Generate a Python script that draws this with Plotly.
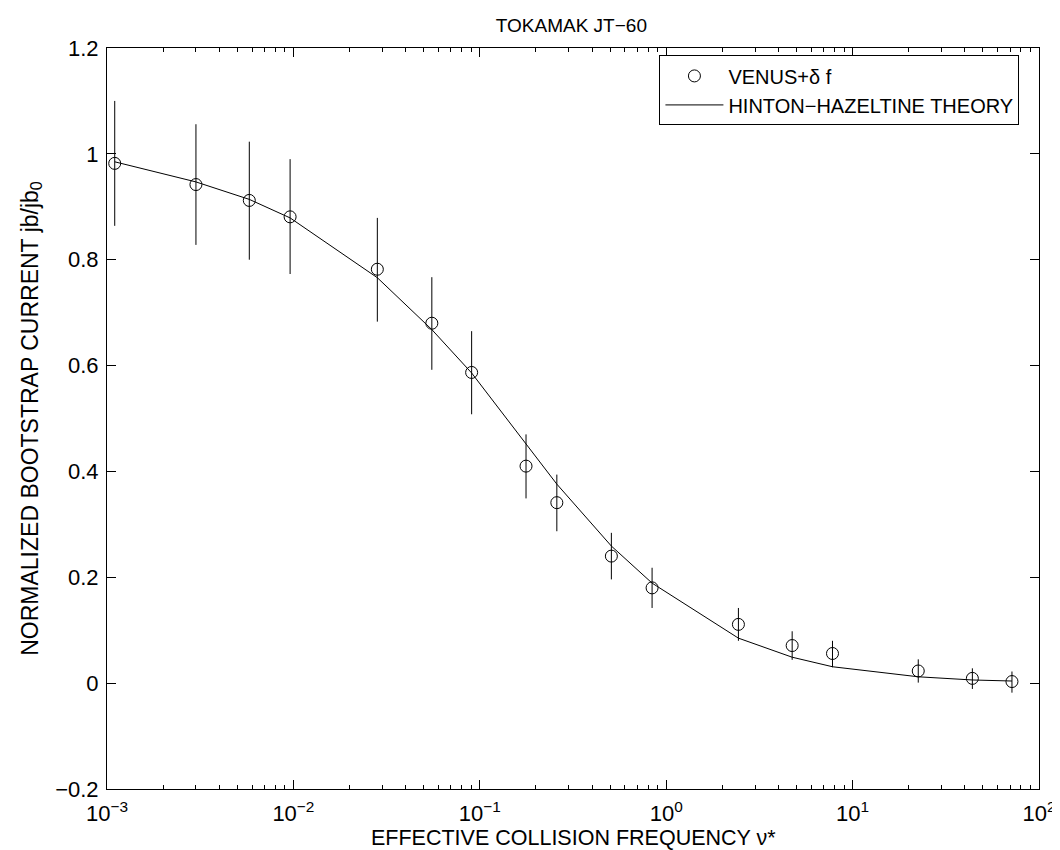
import plotly.graph_objects as go

# Data
nu_star = [0.0011, 0.0030, 0.0058, 0.0096, 0.0282, 0.0553, 0.0904, 0.177, 0.259,
           0.508, 0.840, 2.44, 4.74, 7.80, 22.5, 43.9, 71.6]
venus = [0.982, 0.942, 0.912, 0.881, 0.782, 0.680, 0.587, 0.410, 0.341,
         0.240, 0.180, 0.111, 0.071, 0.056, 0.023, 0.009, 0.003]
err_top = [1.100, 1.056, 1.023, 0.990, 0.879, 0.767, 0.665, 0.470, 0.394,
           0.284, 0.218, 0.142, 0.098, 0.080, 0.045, 0.028, 0.022]
err_bot = [0.864, 0.828, 0.800, 0.773, 0.683, 0.592, 0.508, 0.349, 0.287,
           0.196, 0.142, 0.080, 0.044, 0.030, 0.001, -0.011, -0.018]
theory = [0.985, 0.947, 0.914, 0.879, 0.766, 0.668, 0.586, 0.452, 0.376,
          0.259, 0.189, 0.085, 0.049, 0.031, 0.012, 0.006, 0.004]

x_tick_vals = [1e-3, 1e-2, 1e-1, 1e0, 1e1, 1e2]
x_tick_text = ["10<sup>−3</sup>", "10<sup>−2</sup>", "10<sup>−1</sup>",
               "10<sup>0</sup>", "10<sup>1</sup>", "10<sup>2</sup>"]

x_title = "EFFECTIVE COLLISION FREQUENCY ν*"
y_title = "NORMALIZED BOOTSTRAP CURRENT jb/jb<sub>0</sub>"
chart_title = "TOKAMAK JT−60"

err_plus = [t - v for t, v in zip(err_top, venus)]
err_minus = [v - b for v, b in zip(venus, err_bot)]

minor_vals = [k * d for d in x_tick_vals[:-1] for k in range(2, 10)]

FONT = "Liberation Sans, Arial, Helvetica, sans-serif"

fig = go.Figure()
fig.add_trace(go.Scatter(
    x=nu_star, y=venus, mode="markers", name="VENUS+δ f",
    marker=dict(symbol="circle-open", size=12, color="black", line=dict(width=1, color="black")),
    error_y=dict(type="data", symmetric=False, array=err_plus, arrayminus=err_minus,
                 color="black", thickness=1, width=0),
))
fig.add_trace(go.Scatter(
    x=nu_star, y=theory, mode="lines", name="HINTON−HAZELTINE THEORY",
    line=dict(color="black", width=1),
))

fig.update_layout(
    width=1060, height=850,
    margin=dict(l=99, r=22, t=40, b=69),
    paper_bgcolor="white", plot_bgcolor="white",
    font=dict(family=FONT, color="black", size=20),
    title=dict(text=chart_title, x=0.5315, xanchor="center", y=0.98, yanchor="middle",
               font=dict(size=19, family=FONT, color="black")),
    showlegend=True,
    legend=dict(x=0.979, xanchor="right", y=0.99, yanchor="top",
                bordercolor="black", borderwidth=1, bgcolor="white",
                font=dict(size=20, family=FONT, color="black"),
                itemwidth=58, tracegroupgap=0),
    annotations=[dict(text=x_title, xref="paper", yref="paper", x=0.5, y=-0.066,
                      xanchor="center", yanchor="middle", showarrow=False,
                      font=dict(size=21.5, family=FONT, color="black"))],
)
fig.update_xaxes(
    type="log", range=[-3, 2],
    tickvals=x_tick_vals, ticktext=x_tick_text,
    ticks="inside", ticklen=9, tickcolor="black",
    showline=True, linecolor="black", linewidth=1, mirror="allticks",
    showgrid=False, zeroline=False,
    tickfont=dict(size=22, family=FONT, color="black"),
    ticklabelstandoff=5,
    minor=dict(tickvals=minor_vals, ticks="inside", ticklen=4, tickcolor="black", showgrid=False),
)
fig.update_yaxes(
    range=[-0.2, 1.2], dtick=0.2, tick0=0,
    ticks="inside", ticklen=9, tickcolor="black",
    showline=True, linecolor="black", linewidth=1, mirror="allticks",
    showgrid=False, zeroline=False,
    tickfont=dict(size=22, family=FONT, color="black"),
    ticklabelstandoff=3,
    title=dict(text=y_title, standoff=10,
               font=dict(size=23, family=FONT, color="black")),
)

fig.write_html("out.html")
